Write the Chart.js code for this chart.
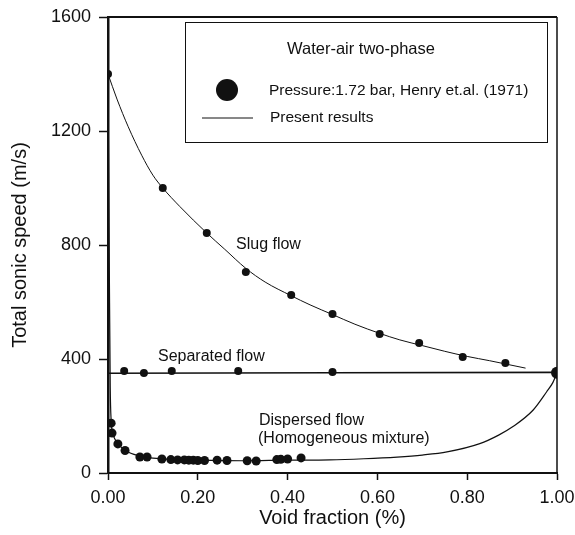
<!DOCTYPE html>
<html>
<head>
<meta charset="utf-8">
<script src="https://cdn.jsdelivr.net/npm/chart.js@4/dist/chart.umd.min.js"></script>
<style>
  html, body { margin: 0; padding: 0; background: #fff; }
  #wrap { width: 575px; height: 535px; }
</style>
</head>
<body>
<div id="wrap"><canvas id="chart" width="575" height="535"></canvas></div>
<script>
// measured points (Henry et al. 1971)
const slugPtX = [0.00, 0.122, 0.22, 0.307, 0.408, 0.50, 0.605, 0.693, 0.79, 0.885];
const slugPtY = [1400, 1000, 842, 705, 625, 558, 488, 456, 407, 386];
const sepPtX = [0.036, 0.08, 0.142, 0.29, 0.50];
const sepPtY = [358, 351, 358, 358, 354];
const dispPtX = [0.007, 0.009, 0.022, 0.038, 0.071, 0.087, 0.12, 0.14, 0.155, 0.17, 0.18, 0.19, 0.2, 0.215, 0.243, 0.265, 0.31, 0.33, 0.376, 0.385, 0.40, 0.43];
const dispPtY = [175, 140, 102, 79, 56, 56, 49, 47, 46, 46, 45, 45, 44, 44, 45, 44, 43, 42, 47, 48, 49, 53];
const endPtX = [1.00];
const endPtY = [352];

// present results (curves)
const slugLineX = [0.00, 0.02, 0.045, 0.075, 0.10, 0.122, 0.16, 0.22, 0.26, 0.307, 0.35, 0.408, 0.45, 0.50, 0.55, 0.605, 0.65, 0.70, 0.75, 0.80, 0.85, 0.89, 0.93];
const slugLineY = [1400, 1312, 1215, 1115, 1045, 1000, 935, 842, 785, 718, 670, 622, 590, 556, 522, 490, 467, 447, 427, 409, 394, 381, 368];
const sepLineX = [0.00, 1.00];
const sepLineY = [350, 353];
const dispLineX = [0.000, 0.003, 0.005, 0.007, 0.01, 0.02, 0.04, 0.07, 0.10, 0.15, 0.20, 0.30, 0.40, 0.494, 0.57, 0.644, 0.70, 0.755, 0.828, 0.87, 0.902, 0.947, 0.977, 0.991, 1.00];
const dispLineY = [1400, 700, 300, 185, 145, 108, 78, 60, 52, 47, 45, 43, 45, 46, 50, 56, 63, 74, 103, 133, 163, 221, 285, 318, 352];

const xTicks = [0, 0.2, 0.4, 0.6, 0.8, 1.0];
const yTicks = [0, 400, 800, 1200, 1600];

const FONT = '"Liberation Sans", Arial, Helvetica, sans-serif';
const INK = '#111';

function pts(xs, ys) {
    return xs.map((x, i) => ({ x: x, y: ys[i] }));
}

function lineSet(xs, ys, width) {
    return {
        data: pts(xs, ys),
        showLine: true,
        borderColor: INK,
        borderWidth: width,
        pointRadius: 0,
        cubicInterpolationMode: 'monotone',
        fill: false,
    };
}

function dotSet(xs, ys, r) {
    return {
        data: pts(xs, ys),
        showLine: false,
        backgroundColor: INK,
        borderColor: INK,
        borderWidth: 0,
        pointRadius: r,
    };
}

// frame, legend box and region labels
const decorations = {
    id: 'decorations',
    afterDraw(chart) {
        const ctx = chart.ctx;
        const a = chart.chartArea;
        ctx.save();
        ctx.strokeStyle = INK;
        ctx.lineWidth = 2;
        ctx.beginPath();
        ctx.moveTo(a.left, a.top);
        ctx.lineTo(a.right, a.top);
        ctx.stroke();
        ctx.lineWidth = 1.5;
        ctx.beginPath();
        ctx.moveTo(a.right, a.top);
        ctx.lineTo(a.right, a.bottom);
        ctx.stroke();

        // legend
        ctx.lineWidth = 1;
        ctx.fillStyle = '#fff';
        ctx.fillRect(185.5, 22.5, 362, 120);
        ctx.strokeRect(185.5, 22.5, 362, 120);
        ctx.fillStyle = INK;
        ctx.textBaseline = 'middle';
        ctx.textAlign = 'left';
        ctx.font = '16.5px ' + FONT;
        ctx.fillText('Water-air two-phase', 287, 49);
        ctx.beginPath();
        ctx.arc(227, 90, 11, 0, Math.PI * 2);
        ctx.fill();
        ctx.font = '15.5px ' + FONT;
        ctx.fillText('Pressure:1.72 bar, Henry et.al. (1971)', 269, 91);
        ctx.beginPath();
        ctx.moveTo(202, 118);
        ctx.lineTo(253, 118);
        ctx.stroke();
        ctx.fillText('Present results', 270, 118);

        // region labels
        ctx.font = '16px ' + FONT;
        ctx.fillText('Slug flow', 236, 245);
        ctx.fillText('Separated flow', 158, 357);
        ctx.fillText('Dispersed flow', 259, 421);
        ctx.fillText('(Homogeneous mixture)', 258, 439);
        ctx.restore();
    }
};

new Chart(document.getElementById('chart'), {
    type: 'scatter',
    data: {
        datasets: [
            lineSet(slugLineX, slugLineY, 1),
            lineSet(sepLineX, sepLineY, 1.6),
            lineSet(dispLineX, dispLineY, 1.2),
            dotSet(slugPtX, slugPtY, 4),
            dotSet(sepPtX, sepPtY, 4),
            dotSet(dispPtX, dispPtY, 4.5),
            dotSet(endPtX, endPtY, 6),
        ],
    },
    options: {
        responsive: false,
        animation: false,
        layout: { padding: { top: 17, right: 18, left: 0, bottom: 0 } },
        plugins: {
            legend: { display: false },
            tooltip: { enabled: false },
        },
        scales: {
            x: {
                type: 'linear',
                min: 0,
                max: 1,
                afterBuildTicks: (s) => { s.ticks = xTicks.map(v => ({ value: v })); },
                afterFit: (s) => {
                    s.height = 62;
                    s.paddingLeft = 0;
                    s.paddingRight = 0;
                },
                grid: { drawOnChartArea: false, tickLength: 7, color: INK, tickWidth: 1.5 },
                border: { color: INK, width: 2 },
                ticks: {
                    color: INK,
                    padding: 7,
                    font: { family: FONT, size: 18 },
                    callback: (v) => v.toFixed(2),
                },
                title: {
                    display: true,
                    text: 'Void fraction (%)',
                    color: INK,
                    font: { family: FONT, size: 20 },
                    padding: { top: 0, bottom: 5 },
                },
            },
            y: {
                type: 'linear',
                min: 0,
                max: 1600,
                afterBuildTicks: (s) => { s.ticks = yTicks.map(v => ({ value: v })); },
                afterFit: (s) => {
                    s.width = 108;
                    s.paddingTop = 0;
                    s.paddingBottom = 0;
                },
                grid: { drawOnChartArea: false, tickLength: 9, color: INK, tickWidth: 1.5 },
                border: { color: INK, width: 2.5 },
                ticks: {
                    color: INK,
                    padding: 8,
                    font: { family: FONT, size: 18 },
                    callback: (v) => String(v),
                },
                title: {
                    display: true,
                    text: 'Total sonic speed (m/s)',
                    color: INK,
                    font: { family: FONT, size: 20 },
                    padding: { top: 8, bottom: 0 },
                },
            },
        },
    },
    plugins: [decorations],
});
</script>
</body>
</html>
